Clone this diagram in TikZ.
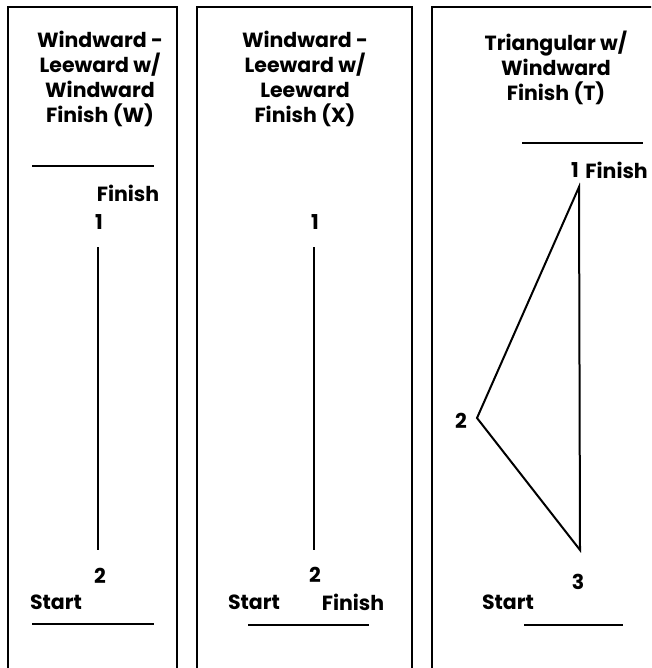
\documentclass[tikz,border=0pt]{standalone}
\usepackage{fontspec}
\setmainfont{Poppins}
\begin{document}
\begin{tikzpicture}[x=1pt,y=-1pt,
  lbl/.style={font=\bfseries\fontsize{20.5}{20.5}\selectfont, inner sep=0pt},
  ttl/.style={inner sep=0pt, align=center, font=\bfseries\fontsize{20.5}{24.8}\selectfont},
  panel/.style={line width=2.5pt},
  rule/.style={line width=2pt},
  course/.style={line width=2pt, line join=miter, miter limit=20}]
\useasboundingbox (0,0) rectangle (651,668);
\begin{scope}
\clip (0,0) rectangle (651,668);
% panels
\draw[panel] (8,690) -- (8,7) -- (177,7) -- (177,690);
\draw[panel] (197,690) -- (197,7) -- (412,7) -- (412,690);
\draw[panel] (432,690) -- (432,7) -- (700,7) -- (700,690);
\end{scope}

% Panel W
\node[ttl] (tW) at (100,79) {Windward -\\Leeward w/\\Windward\\Finish (W)};
\coordinate (wTopL) at (32,166); \coordinate (wTopR) at (154,166);
\draw[rule] (wTopL) -- (wTopR);
\node[lbl] (wFin) at (128,193) {Finish};
\node[lbl] (w1) at (99,222) {1};
\coordinate (wa) at (98,247); \coordinate (wb) at (98,550);
\draw[course] (wa) -- (wb);
\node[lbl] (w2) at (100,576) {2};
\node[lbl] (wStart) at (56,602) {Start};
\coordinate (wBotL) at (32,624); \coordinate (wBotR) at (154,624);
\draw[rule] (wBotL) -- (wBotR);

% Panel X
\node[ttl] (tX) at (305,79) {Windward -\\Leeward w/\\Leeward\\Finish (X)};
\node[lbl] (x1) at (315,222) {1};
\coordinate (xa) at (314,247); \coordinate (xb) at (314,550);
\draw[course] (xa) -- (xb);
\node[lbl] (x2) at (315,575) {2};
\node[lbl] (xStart) at (254,602) {Start};
\node[lbl] (xFin) at (353,602) {Finish};
\coordinate (xBotL) at (248,625); \coordinate (xBotR) at (369,625);
\draw[rule] (xBotL) -- (xBotR);

% Panel T
\node[ttl] (tT) at (556,68) {Triangular w/\\Windward\\Finish (T)};
\coordinate (tTopL) at (522,143); \coordinate (tTopR) at (643,143);
\draw[rule] (tTopL) -- (tTopR);
\node[lbl] (t1) at (575,170) {1};
\node[lbl, anchor=east] (tFin) at (648,170) {Finish};
\coordinate (v1) at (579,187);
\coordinate (v2) at (477,418);
\coordinate (v3) at (580,550);
\draw[course] (v1) -- (v2) -- (v3) -- cycle;
\node[lbl] (t2) at (461,421) {2};
\node[lbl] (t3) at (578,582) {3};
\node[lbl] (tStart) at (508,602) {Start};
\coordinate (tBotL) at (524,625); \coordinate (tBotR) at (623,625);
\draw[rule] (tBotL) -- (tBotR);
\end{tikzpicture}
\end{document}
